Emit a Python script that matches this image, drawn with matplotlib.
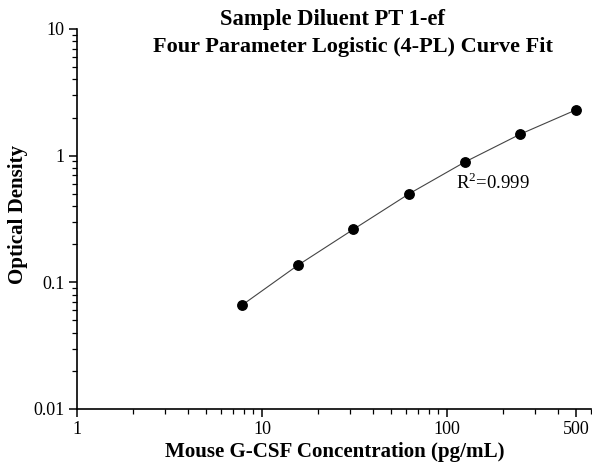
import matplotlib
matplotlib.use("Agg")
import matplotlib.pyplot as plt
from matplotlib.ticker import FixedLocator, FixedFormatter, LogLocator, NullFormatter

# standard concentrations (pg/mL) and measured OD
conc = [7.8, 15.6, 31.25, 62.5, 125, 250, 500]
od = [0.066, 0.136, 0.262, 0.50, 0.89, 1.48, 2.30]

xticks = [1, 10, 100, 500]
xticklabels = ['1', '10', '100', '500']
yticks = [0.01, 0.1, 1, 10]
yticklabels = ['0.01', '0.1', '1', '10']

plt.rcParams['font.family'] = ['Liberation Serif', 'DejaVu Serif']
plt.rcParams['mathtext.fontset'] = 'custom'
plt.rcParams['mathtext.rm'] = 'Liberation Serif'

fig = plt.figure(figsize=(5.92, 4.67), dpi=100)
ax = fig.add_axes([0.130, 0.1242, 0.868, 0.8138])

ax.plot(conc, od, color='#444444', lw=0.8, zorder=2)
ax.plot(conc, od, 'o', color='black', ms=6.8, zorder=3)

ax.set_xscale('log')
ax.set_yscale('log')
ax.set_xlim(1, 600)
ax.set_ylim(0.01, 10)

ax.xaxis.set_major_locator(FixedLocator(xticks))
ax.xaxis.set_major_formatter(FixedFormatter(xticklabels))
ax.xaxis.set_minor_locator(LogLocator(base=10, subs=range(2, 10)))
ax.xaxis.set_minor_formatter(NullFormatter())
ax.yaxis.set_major_locator(FixedLocator(yticks))
ax.yaxis.set_major_formatter(FixedFormatter(yticklabels))
ax.yaxis.set_minor_locator(LogLocator(base=10, subs=range(2, 10)))
ax.yaxis.set_minor_formatter(NullFormatter())

ax.spines['top'].set_visible(False)
ax.spines['right'].set_visible(False)
for s in ['left', 'bottom']:
    ax.spines[s].set_linewidth(1.2)
ax.tick_params(which='major', direction='out', length=6, width=1.1, labelsize=13, pad=3)
ax.tick_params(which='minor', direction='out', length=3.5, width=0.9)

ax.annotate(r'R$^{\mathregular{2}}$=0.999', xy=(125, 0.89), xytext=(-6, -7),
            textcoords='offset points', fontsize=13.5, va='top', ha='left')

fig.text(333 / 592, 1 - 20 / 467, 'Sample Diluent PT 1-ef', ha='center', va='center',
         fontsize=16.3, fontweight='bold')
fig.text(353 / 592, 1 - 47 / 467, 'Four Parameter Logistic (4-PL) Curve Fit', ha='center',
         va='center', fontsize=16, fontweight='bold')
fig.text(335 / 592, 1 - 452 / 467, 'Mouse G-CSF Concentration (pg/mL)', ha='center',
         va='center', fontsize=15.1, fontweight='bold')
fig.text(18 / 592, 1 - 215 / 467, 'Optical Density', ha='center', va='center',
         rotation=90, fontsize=15.1, fontweight='bold')

fig.savefig('out.png', dpi=100)
